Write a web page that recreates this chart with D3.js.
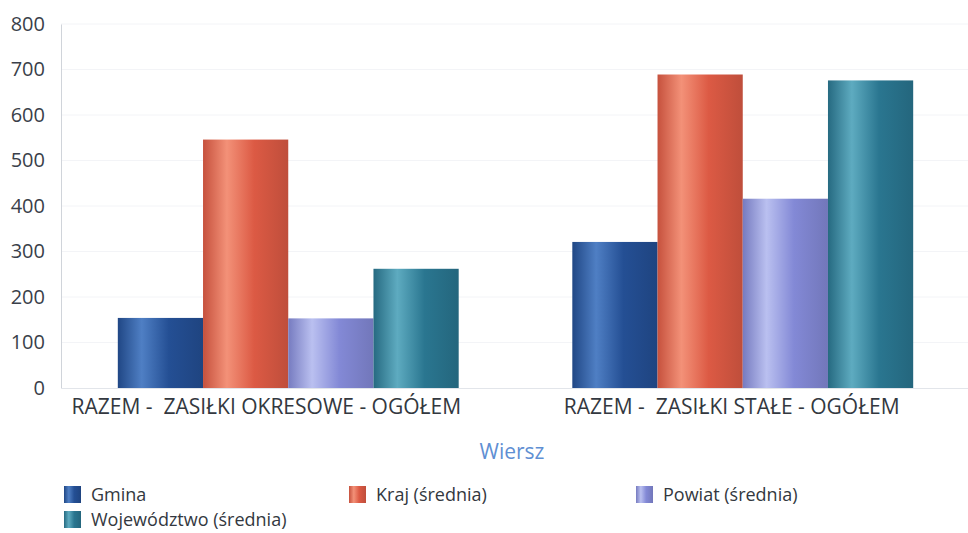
<!DOCTYPE html>
<html>
<head>
<meta charset="utf-8">
<script src="https://cdn.jsdelivr.net/npm/d3@7"></script>
<style>
    body { margin: 0; background: #fff; }
    svg { display: block; font-family: "Open Sans", sans-serif; }
</style>
</head>
<body>
<div class="chart-container"></div>
<script>
const categories = ["RAZEM -  ZASIŁKI OKRESOWE - OGÓŁEM", "RAZEM -  ZASIŁKI STAŁE - OGÓŁEM"];
const seriesNames = ["Gmina", "Kraj (średnia)", "Powiat (średnia)", "Województwo (średnia)"];
const gmina = [154, 321];
const kraj = [546, 689];
const powiat = [153, 416];
const wojewodztwo = [262, 676];
const yTicks = [0, 100, 200, 300, 400, 500, 600, 700, 800];
const xTitle = "Wiersz";

const seriesValues = [gmina, kraj, powiat, wojewodztwo];
// base colour, highlight colour for the cylinder look
const colors = [
    ["#244f94", "#4f7fc4"],
    ["#dc5a44", "#f39178"],
    ["#8389d6", "#bac0f0"],
    ["#2a7690", "#5eabc0"]
];

const width = 968, height = 533;
const margin = { top: 24, right: 0, bottom: 145, left: 61 };
const plotW = 909;
const plotH = height - margin.top - margin.bottom;

const svg = d3.select(".chart-container")
    .append("svg")
    .attr("width", width)
    .attr("height", height);

const defs = svg.append("defs");
colors.forEach((c, i) => {
    const g = defs.append("linearGradient")
        .attr("id", "grad" + i)
        .attr("x1", "0%").attr("y1", "0%")
        .attr("x2", "100%").attr("y2", "0%");
    g.append("stop").attr("offset", "0%").attr("stop-color", d3.color(c[0]).darker(0.3));
    g.append("stop").attr("offset", "28%").attr("stop-color", c[1]);
    g.append("stop").attr("offset", "60%").attr("stop-color", c[0]);
    g.append("stop").attr("offset", "100%").attr("stop-color", d3.color(c[0]).darker(0.4));
});

const chart = svg.append("g")
    .attr("transform", `translate(${margin.left}, ${margin.top})`);

const x0 = d3.scaleBand()
    .domain(categories)
    .range([0, plotW])
    .paddingInner(0.25)
    .paddingOuter(0.125);

const x1 = d3.scaleBand()
    .domain(d3.range(seriesNames.length))
    .range([0, x0.bandwidth()]);

const y = d3.scaleLinear()
    .domain([0, 800])
    .range([plotH, 0]);

// faint grid
chart.append("g")
    .selectAll("line")
    .data(yTicks.slice(1))
    .join("line")
    .attr("x1", 0).attr("x2", plotW)
    .attr("y1", d => y(d)).attr("y2", d => y(d))
    .attr("stroke", "#f3f4f7");

const groups = chart.append("g")
    .selectAll("g")
    .data(categories)
    .join("g")
    .attr("transform", d => `translate(${x0(d)}, 0)`);

groups.selectAll("rect")
    .data((d, ci) => seriesValues.map((s, si) => ({ si, v: s[ci] })))
    .join("rect")
    .attr("x", d => x1(d.si))
    .attr("width", x1.bandwidth())
    .attr("y", d => y(d.v))
    .attr("height", d => plotH - y(d.v))
    .attr("fill", d => `url(#grad${d.si})`);

const yAxis = d3.axisLeft(y)
    .tickValues(yTicks)
    .tickSize(0)
    .tickPadding(16);

chart.append("g")
    .call(yAxis)
    .call(g => g.select(".domain").attr("stroke", "#d0d4da"))
    .call(g => g.selectAll("text")
        .attr("fill", "#3a3f4a")
        .attr("font-size", 20)
        .attr("font-family", "Open Sans, sans-serif"));

const xAxis = d3.axisBottom(x0)
    .tickSize(0)
    .tickPadding(11);

// labels sit a little left of the group centre in the original
const labelShift = [-22, -11];

chart.append("g")
    .attr("transform", `translate(0, ${plotH})`)
    .call(xAxis)
    .call(g => g.select(".domain").attr("stroke", "#e2e5ea"))
    .call(g => g.selectAll("text")
        .style("white-space", "pre")
        .attr("dx", (d, i) => labelShift[i])
        .attr("fill", "#333840")
        .attr("font-size", 21)
        .attr("font-family", "Open Sans, sans-serif"));

svg.append("text")
    .attr("x", 512)
    .attr("y", 459)
    .attr("text-anchor", "middle")
    .attr("fill", "#5f8fd3")
    .attr("font-size", 21)
    .text(xTitle);

const legendX = [64, 349, 636];
const legend = svg.append("g")
    .selectAll("g")
    .data(seriesNames)
    .join("g")
    .attr("transform", (d, i) => `translate(${legendX[i % 3]}, ${486 + Math.floor(i / 3) * 25})`);

legend.append("rect")
    .attr("width", 17).attr("height", 17)
    .attr("fill", (d, i) => `url(#grad${i})`);

legend.append("text")
    .attr("x", 27)
    .attr("y", 15)
    .attr("fill", "#333840")
    .attr("font-size", 18)
    .text(d => d);
</script>
</body>
</html>
